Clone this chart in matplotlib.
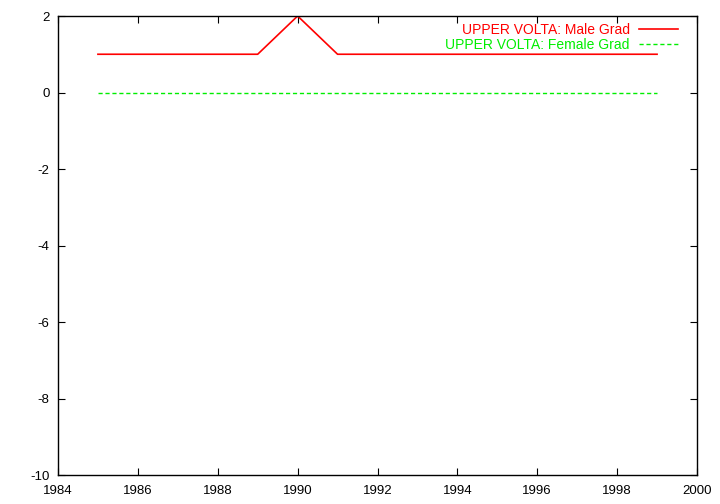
import numpy as np
import matplotlib.pyplot as plt

years = [1985, 1986, 1987, 1988, 1989, 1990, 1991, 1992, 1993, 1994, 1995, 1996, 1997, 1998, 1999]
male_grad = [1, 1, 1, 1, 1, 2, 1, 1, 1, 1, 1, 1, 1, 1, 1]
female_grad = [0, 0, 0, 0, 0, 0, 0, 0, 0, 0, 0, 0, 0, 0, 0]

plt.rcParams['font.family'] = ['Liberation Sans', 'DejaVu Sans']
plt.rcParams['axes.unicode_minus'] = False

fig = plt.figure(figsize=(7.2, 5.04), dpi=100)
ax = fig.add_axes([58 / 720, 29 / 504, 639 / 720, 459 / 504])

ax.plot(years, male_grad, color="#ff0000", linewidth=1.2, label="UPPER VOLTA: Male Grad")
ax.plot(years, female_grad, color="#00ee00", linewidth=1.0, linestyle=(0, (3, 2)),
        label="UPPER VOLTA: Female Grad")

ax.set_xlim(1984, 2000)
ax.set_ylim(-10, 2)
ax.set_xticks(np.arange(1984, 2001, 2))
ax.set_yticks(np.arange(-10, 3, 2))
ax.tick_params(direction="in", top=True, right=True, labelsize=9.5, length=5)
ax.tick_params(axis="x", pad=7)
ax.tick_params(axis="y", pad=6)
for spine in ax.spines.values():
    spine.set_linewidth(1.0)

leg = ax.legend(loc="upper right", frameon=False, markerfirst=False, fontsize=10,
                handlelength=2.8, handletextpad=0.65, borderaxespad=1.0,
                labelspacing=0.05, bbox_to_anchor=(1.0, 1.027))
for text, line in zip(leg.get_texts(), leg.get_lines()):
    text.set_color(line.get_color())

fig.savefig("out.png", dpi=100)
